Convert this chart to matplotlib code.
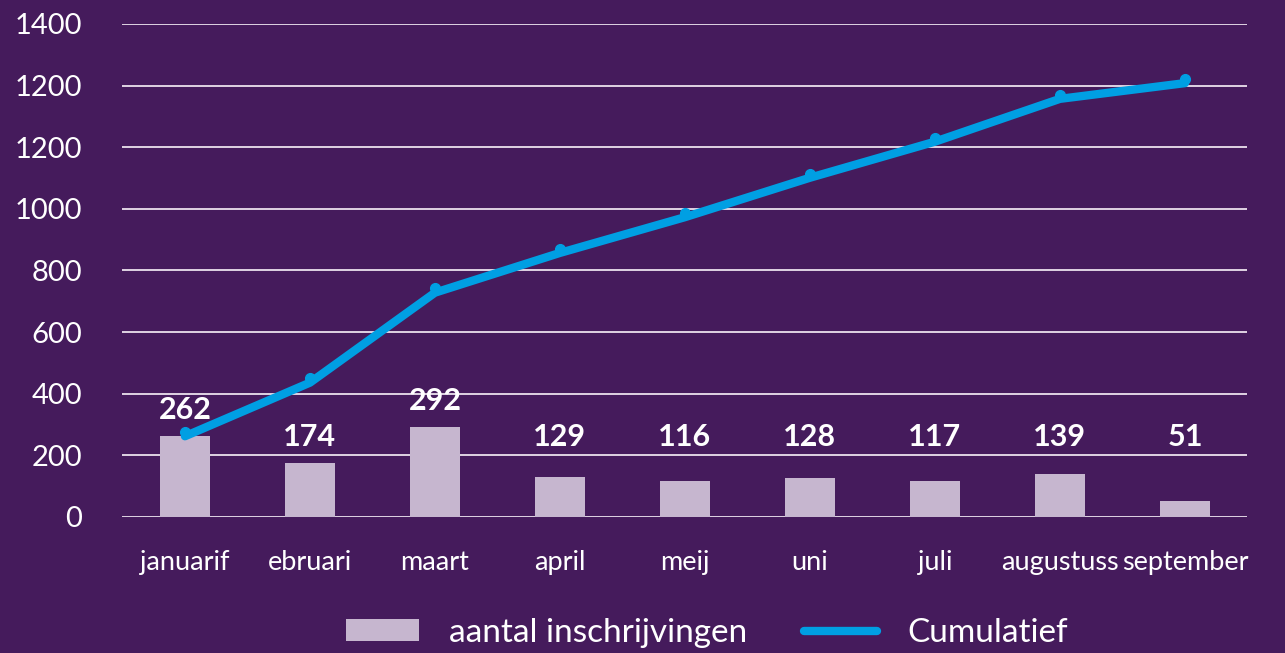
import matplotlib.pyplot as plt
import matplotlib.transforms as mtransforms
from matplotlib.patches import Patch
from matplotlib.lines import Line2D

# data
months = ['januarif', 'ebruari', 'maart', 'april', 'meij', 'uni', 'juli', 'augustuss', 'september']
inschrijvingen = [262, 174, 292, 129, 116, 128, 117, 139, 51]
cumulatief = [262, 436, 728, 857, 973, 1101, 1218, 1357, 1408]
y_ticks = [0, 200, 400, 600, 800, 1000, 1200, 1400, 1600]
y_labels = ['0', '200', '400', '600', '800', '1000', '1200', '1200', '1400']

bg = '#451b5c'
bar_col = '#c6b6cf'
line_col = '#009fe3'

plt.rcParams['font.family'] = ['Lato', 'DejaVu Sans']

fig = plt.figure(figsize=(12.85, 6.53), dpi=100, facecolor=bg)
ax = fig.add_axes([0.0953, 0.2083, 0.8755, 0.755])
ax.set_facecolor(bg)

x = list(range(len(months)))
ax.bar(x, inschrijvingen, width=0.4, color=bar_col, zorder=2)
ax.plot(x, cumulatief, color=line_col, lw=6, solid_capstyle='round', zorder=3)
# little dots sit just above the line
off = mtransforms.offset_copy(ax.transData, fig=fig, x=0, y=3, units='points')
ax.plot(x, cumulatief, 'o', color=line_col, ms=7, transform=off, zorder=3)

# value labels above the bars
for i, v in enumerate(inschrijvingen):
    ax.text(i, max(v + 85, 260), str(v), ha='center', va='center', color='white',
            fontsize=22, fontweight='bold', zorder=4)

ax.set_xlim(-0.5, len(months) - 0.5)
ax.set_ylim(0, 1600)
ax.set_yticks(y_ticks)
ax.set_yticklabels(y_labels)
ax.set_xticks(x)
ax.set_xticklabels(months)
ax.yaxis.grid(True, color='#ece2ee', lw=1.3, zorder=1)
ax.set_axisbelow(True)
ax.tick_params(axis='y', length=0, pad=29, labelsize=21, labelcolor='white')
ax.tick_params(axis='x', length=0, pad=24, labelsize=19.5, labelcolor='white')
for s in ax.spines.values():
    s.set_visible(False)

handles = [Patch(facecolor=bar_col, label='aantal inschrijvingen'),
           Line2D([], [], color=line_col, lw=6, solid_capstyle='round', label='Cumulatief')]
fig.legend(handles=handles, loc='center', bbox_to_anchor=(0.55, 0.031), ncol=2,
           frameon=False, fontsize=24, labelcolor='white', handlelength=2.2,
           handleheight=0.6, columnspacing=1.7, handletextpad=0.9)

fig.savefig('out.png', dpi=100, facecolor=bg)
